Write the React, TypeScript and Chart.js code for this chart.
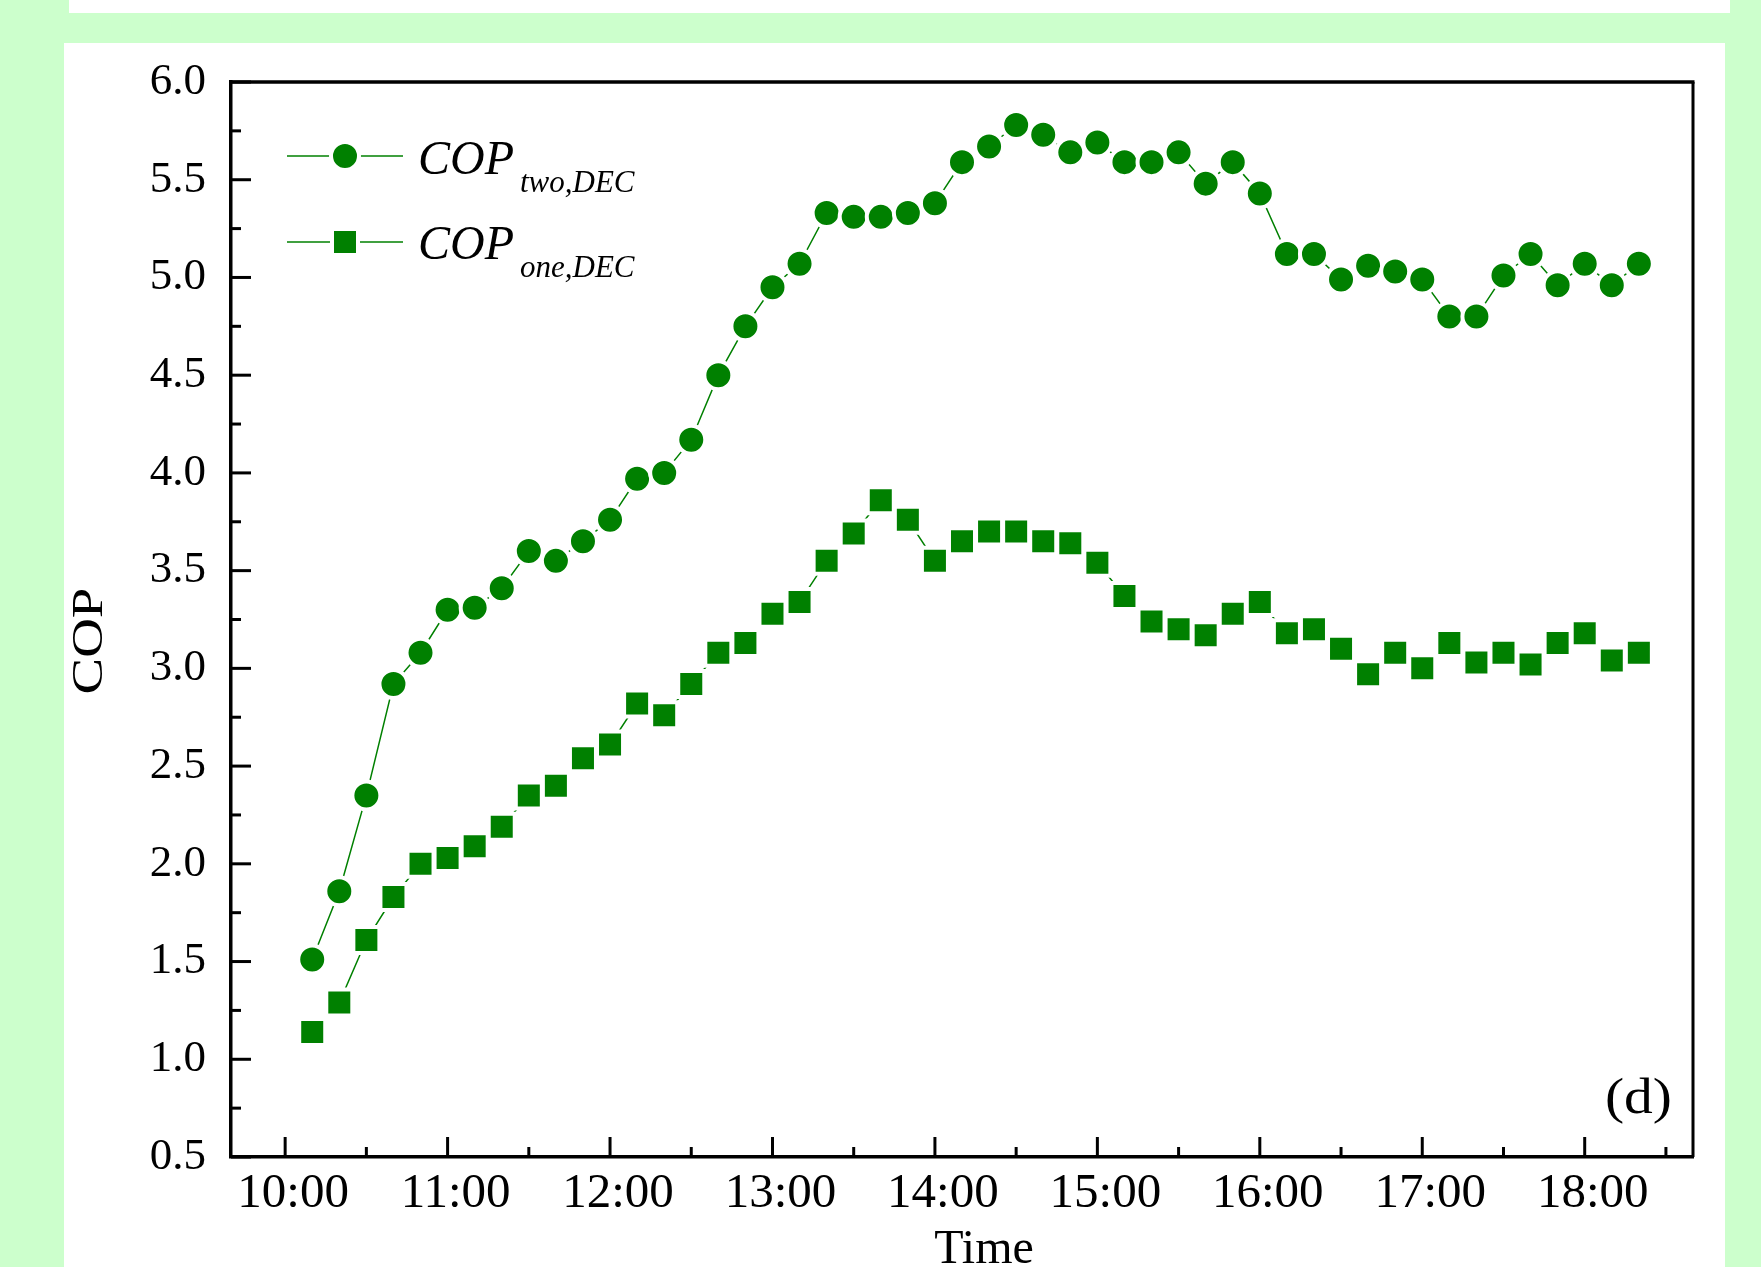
import React, { useEffect, useRef } from "react";
import { Chart, registerables } from "chart.js";

Chart.register(...registerables);

// ---- data ----
const times = [
  "10:10", "10:20", "10:30", "10:40", "10:50", "11:00",
  "11:10", "11:20", "11:30", "11:40", "11:50", "12:00",
  "12:10", "12:20", "12:30", "12:40", "12:50", "13:00",
  "13:10", "13:20", "13:30", "13:40", "13:50", "14:00",
  "14:10", "14:20", "14:30", "14:40", "14:50", "15:00",
  "15:10", "15:20", "15:30", "15:40", "15:50", "16:00",
  "16:10", "16:20", "16:30", "16:40", "16:50", "17:00",
  "17:10", "17:20", "17:30", "17:40", "17:50", "18:00",
  "18:10", "18:20",
];

const copTwoDEC = [
  1.51, 1.86, 2.35, 2.92, 3.08, 3.30, 3.31, 3.41, 3.60, 3.55, 3.65, 3.76,
  3.97, 4.00, 4.17, 4.50, 4.75, 4.95, 5.07, 5.33, 5.31, 5.31, 5.33, 5.38,
  5.59, 5.67, 5.78, 5.73, 5.64, 5.69, 5.59, 5.59, 5.64, 5.48, 5.59, 5.43,
  5.12, 5.12, 4.99, 5.06, 5.03, 4.99, 4.80, 4.80, 5.01, 5.12, 4.96, 5.07,
  4.96, 5.07,
];

const copOneDEC = [
  1.14, 1.29, 1.61, 1.83, 2.00, 2.03, 2.09, 2.19, 2.35, 2.40, 2.54, 2.61,
  2.82, 2.76, 2.92, 3.08, 3.13, 3.28, 3.34, 3.55, 3.69, 3.86, 3.76, 3.55,
  3.65, 3.70, 3.70, 3.65, 3.64, 3.54, 3.37, 3.24, 3.20, 3.17, 3.28, 3.34,
  3.18, 3.20, 3.10, 2.97, 3.08, 3.00, 3.13, 3.03, 3.08, 3.02, 3.13, 3.18,
  3.04, 3.08,
];

const xTickLabels = ["10:00", "11:00", "12:00", "13:00", "14:00", "15:00", "16:00", "17:00", "18:00"];
const yTickValues = [0.5, 1.0, 1.5, 2.0, 2.5, 3.0, 3.5, 4.0, 4.5, 5.0, 5.5, 6.0];
const xRange = ["9:40", "18:40"];
const seriesMain = "COP";
const seriesSubs = ["two,DEC", "one,DEC"];
const xTitle = "Time";
const yTitle = "COP";
const panelLabel = "(d)";

const toHours = (t: string) => {
  const [h, m] = t.split(":").map(Number);
  return h + m / 60;
};
const hourLabel = (v: number) => `${Math.floor(v + 1e-6)}:${String(Math.round((v - Math.floor(v + 1e-6)) * 60)).padStart(2, "0")}`;

const GREEN = "#008000";
const SERIF = "'Liberation Serif', 'Times New Roman', serif";
const W = 1761;
const H = 1267;

const backgroundPlugin = {
  id: "bgPanels",
  beforeDraw(chart: any) {
    const ctx = chart.ctx;
    ctx.save();
    ctx.fillStyle = "#ccffcc";
    ctx.fillRect(0, 0, chart.width, chart.height);
    ctx.fillStyle = "#ffffff";
    ctx.fillRect(69, 0, 1661, 13);
    ctx.fillRect(64, 43, 1661, chart.height - 43);
    ctx.restore();
  },
};

const drawMarker = (ctx: CanvasRenderingContext2D, style: string, x: number, y: number) => {
  ctx.save();
  ctx.fillStyle = GREEN;
  ctx.strokeStyle = "#ffffff";
  ctx.lineWidth = 4;
  ctx.beginPath();
  if (style === "circle") {
    ctx.arc(x, y, 14, 0, Math.PI * 2);
  } else {
    ctx.rect(x - 13, y - 13, 26, 26);
  }
  ctx.fill();
  ctx.stroke();
  ctx.restore();
};

const framePlugin = {
  id: "frameTicksLegend",
  afterDraw(chart: any) {
    const ctx: CanvasRenderingContext2D = chart.ctx;
    const { left, right, top, bottom } = chart.chartArea;
    const xs = chart.scales.x;
    const ys = chart.scales.y;
    ctx.save();
    ctx.strokeStyle = "#000";
    ctx.lineCap = "butt";

    // top & right frame lines
    ctx.lineWidth = 3.5;
    ctx.beginPath();
    ctx.moveTo(left - 1.5, top);
    ctx.lineTo(right + 1.5, top);
    ctx.stroke();
    ctx.lineWidth = 3;
    ctx.beginPath();
    ctx.moveTo(right, top);
    ctx.lineTo(right, bottom);
    ctx.stroke();

    // inward ticks
    ctx.lineWidth = 3;
    const xMajor = xTickLabels.map(toHours);
    const xMinor = xMajor.map((v) => v + 0.5).filter((v) => v < xs.max);
    xMajor.forEach((v) => {
      const px = xs.getPixelForValue(v);
      ctx.beginPath();
      ctx.moveTo(px, bottom);
      ctx.lineTo(px, bottom - 20);
      ctx.stroke();
    });
    xMinor.forEach((v) => {
      const px = xs.getPixelForValue(v);
      ctx.beginPath();
      ctx.moveTo(px, bottom);
      ctx.lineTo(px, bottom - 10);
      ctx.stroke();
    });
    const yMinor = yTickValues.map((v) => v + 0.25).filter((v) => v < ys.max);
    yTickValues.forEach((v) => {
      const py = ys.getPixelForValue(v);
      ctx.beginPath();
      ctx.moveTo(left, py);
      ctx.lineTo(left + 20, py);
      ctx.stroke();
    });
    yMinor.forEach((v) => {
      const py = ys.getPixelForValue(v);
      ctx.beginPath();
      ctx.moveTo(left, py);
      ctx.lineTo(left + 10, py);
      ctx.stroke();
    });

    // axis titles
    ctx.fillStyle = "#000";
    ctx.font = `48px ${SERIF}`;
    ctx.textAlign = "center";
    ctx.textBaseline = "alphabetic";
    ctx.fillText(xTitle, 984, 1263);

    ctx.save();
    ctx.translate(102, 641);
    ctx.rotate(-Math.PI / 2);
    ctx.scale(1.22, 1);
    ctx.font = `45px ${SERIF}`;
    ctx.textAlign = "center";
    ctx.fillText(yTitle, 0, 0);
    ctx.restore();

    // panel label
    ctx.save();
    ctx.translate(1672, 1113);
    ctx.scale(1.15, 1);
    ctx.font = `50px ${SERIF}`;
    ctx.textAlign = "right";
    ctx.fillText(panelLabel, 0, 0);
    ctx.restore();

    // legend
    const rows = [
      { y: 156, style: "circle", base: 174, subBase: 192, sub: seriesSubs[0] },
      { y: 242, style: "rect", base: 259, subBase: 277, sub: seriesSubs[1] },
    ];
    rows.forEach((r) => {
      ctx.strokeStyle = GREEN;
      ctx.lineWidth = 1.5;
      ctx.beginPath();
      ctx.moveTo(287, r.y);
      ctx.lineTo(403, r.y);
      ctx.stroke();
      drawMarker(ctx, r.style, 345, r.y);
      ctx.fillStyle = "#000";
      ctx.textAlign = "left";
      ctx.font = `italic 48px ${SERIF}`;
      ctx.fillText(seriesMain, 418, r.base);
      const wMain = ctx.measureText(seriesMain).width;
      ctx.font = `italic 31px ${SERIF}`;
      ctx.fillText(r.sub, 418 + wMain + 6, r.subBase);
    });
    ctx.restore();
  },
};

export default function App() {
  const canvasRef = useRef<HTMLCanvasElement | null>(null);

  useEffect(() => {
    document.body.style.margin = "0";
    document.body.style.overflow = "hidden";
    const canvas = canvasRef.current;
    if (!canvas) return;
    const xs = times.map(toHours);
    const chart = new Chart(canvas, {
      type: "line",
      data: {
        datasets: [
          {
            label: `${seriesMain} ${seriesSubs[0]}`,
            data: xs.map((x, i) => ({ x, y: copTwoDEC[i] })),
            borderColor: GREEN,
            borderWidth: 1.5,
            backgroundColor: GREEN,
            pointStyle: "circle",
            pointRadius: 14,
            pointBackgroundColor: GREEN,
            pointBorderColor: "#ffffff",
            pointBorderWidth: 4,
            tension: 0,
            fill: false,
          },
          {
            label: `${seriesMain} ${seriesSubs[1]}`,
            data: xs.map((x, i) => ({ x, y: copOneDEC[i] })),
            borderColor: GREEN,
            borderWidth: 1.5,
            backgroundColor: GREEN,
            pointStyle: "rect",
            pointRadius: 18.4,
            pointBackgroundColor: GREEN,
            pointBorderColor: "#ffffff",
            pointBorderWidth: 4,
            tension: 0,
            fill: false,
          },
        ],
      },
      options: {
        responsive: false,
        animation: false,
        devicePixelRatio: 1,
        layout: { padding: { left: 0, top: 82, right: 68, bottom: 0 } },
        plugins: {
          legend: { display: false },
          tooltip: { enabled: false },
          title: { display: false },
        },
        scales: {
          x: {
            type: "linear",
            min: toHours(xRange[0]),
            max: toHours(xRange[1]),
            afterFit: (s: any) => {
              s.height = 110;
            },
            afterBuildTicks: (s: any) => {
              s.ticks = xTickLabels.map((t) => ({ value: toHours(t) }));
            },
            grid: { display: false, drawTicks: false },
            border: { display: true, color: "#000", width: 3.5 },
            ticks: {
              padding: 8,
              labelOffset: 8,
              maxRotation: 0,
              autoSkip: false,
              color: "#000",
              font: { family: SERIF, size: 49 },
              callback: (v: any) => hourLabel(Number(v)),
            },
          },
          y: {
            type: "linear",
            min: yTickValues[0],
            max: yTickValues[yTickValues.length - 1],
            afterFit: (s: any) => {
              s.width = 231;
            },
            afterBuildTicks: (s: any) => {
              s.ticks = yTickValues.map((v) => ({ value: v }));
            },
            grid: { display: false, drawTicks: false },
            border: { display: true, color: "#000", width: 3.5 },
            ticks: {
              padding: 25,
              autoSkip: false,
              color: "#000",
              font: { family: SERIF, size: 45 },
              callback: (v: any) => Number(v).toFixed(1),
            },
          },
        },
      },
      plugins: [backgroundPlugin, framePlugin],
    } as any);
    return () => chart.destroy();
  }, []);

  return (
    <div style={{ width: W, height: H, position: "relative" }}>
      <canvas ref={canvasRef} width={W} height={H} style={{ width: W, height: H, display: "block" }} />
    </div>
  );
}
